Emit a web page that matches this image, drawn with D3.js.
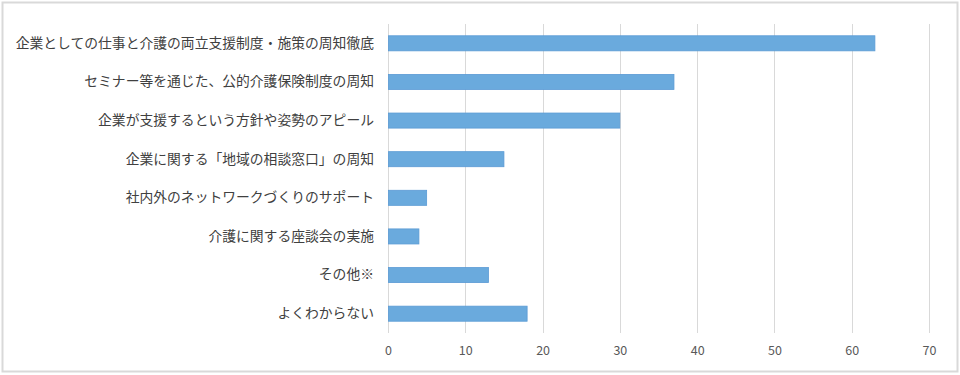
<!DOCTYPE html>
<html>
<head>
<meta charset="utf-8">
<script src="https://cdn.jsdelivr.net/npm/d3@7"></script>
<style>
  body { margin: 0; background: #fff; }
  svg text { font-family: "Noto Sans CJK JP", "Noto Sans", sans-serif; }
</style>
</head>
<body>
<svg id="chart"></svg>
<script>
// categories and values, top to bottom
const categories = [
    "企業としての仕事と介護の両立支援制度・施策の周知徹底",
    "セミナー等を通じた、公的介護保険制度の周知",
    "企業が支援するという方針や姿勢のアピール",
    "企業に関する「地域の相談窓口」の周知",
    "社内外のネットワークづくりのサポート",
    "介護に関する座談会の実施",
    "その他※",
    "よくわからない"
];
const values = [63, 37, 30, 15, 5, 4, 13, 18];
const xTicks = [0, 10, 20, 30, 40, 50, 60, 70];

const width = 960, height = 375;
const margin = { top: 24, right: 31, bottom: 42, left: 388 };
const innerW = width - margin.left - margin.right;
const innerH = height - margin.top - margin.bottom;

const svg = d3.select("#chart")
    .attr("width", width)
    .attr("height", height);

// outer frame
svg.append("rect")
    .attr("x", 2.5).attr("y", 2.5)
    .attr("width", 955).attr("height", 369)
    .attr("fill", "#fff")
    .attr("stroke", "#d9d9d9")
    .attr("stroke-width", 2);

const g = svg.append("g")
    .attr("transform", `translate(${margin.left},${margin.top})`);

const x = d3.scaleLinear().domain([0, 70]).range([0, innerW]);
const y = d3.scaleBand().domain(categories).range([0, innerH]).paddingInner(0.61).paddingOuter(0.305);

// gridlines
g.selectAll(".grid")
    .data(xTicks)
    .enter()
    .append("line")
    .attr("class", "grid")
    .attr("x1", d => Math.round(x(d)) + 0.5)
    .attr("x2", d => Math.round(x(d)) + 0.5)
    .attr("y1", 0)
    .attr("y2", innerH)
    .attr("stroke", "#d9d9d9")
    .attr("stroke-width", 1);

// bars
g.selectAll(".bar")
    .data(values)
    .enter()
    .append("rect")
    .attr("class", "bar")
    .attr("x", x(0) + 0.5)
    .attr("y", (d, i) => y(categories[i]))
    .attr("width", d => x(d) - x(0) - 0.5)
    .attr("height", y.bandwidth())
    .attr("fill", "#6aaadd")
    .attr("stroke", "#5b9bd5")
    .attr("stroke-width", 0.8);

// x axis labels
const xAxis = d3.axisBottom(x).tickValues(xTicks).tickSize(0).tickPadding(13);
const xg = g.append("g")
    .attr("transform", `translate(0,${innerH})`)
    .call(xAxis);
xg.select(".domain").remove();
xg.selectAll("text")
    .attr("fill", "#595959")
    .style("font-size", "12.5px");

// y axis labels
const yAxis = d3.axisLeft(y).tickSize(0).tickPadding(14);
const yg = g.append("g").call(yAxis);
yg.select(".domain").remove();
yg.selectAll("text")
    .attr("fill", "#404040")
    .style("font-size", "13.8px");
</script>
</body>
</html>
